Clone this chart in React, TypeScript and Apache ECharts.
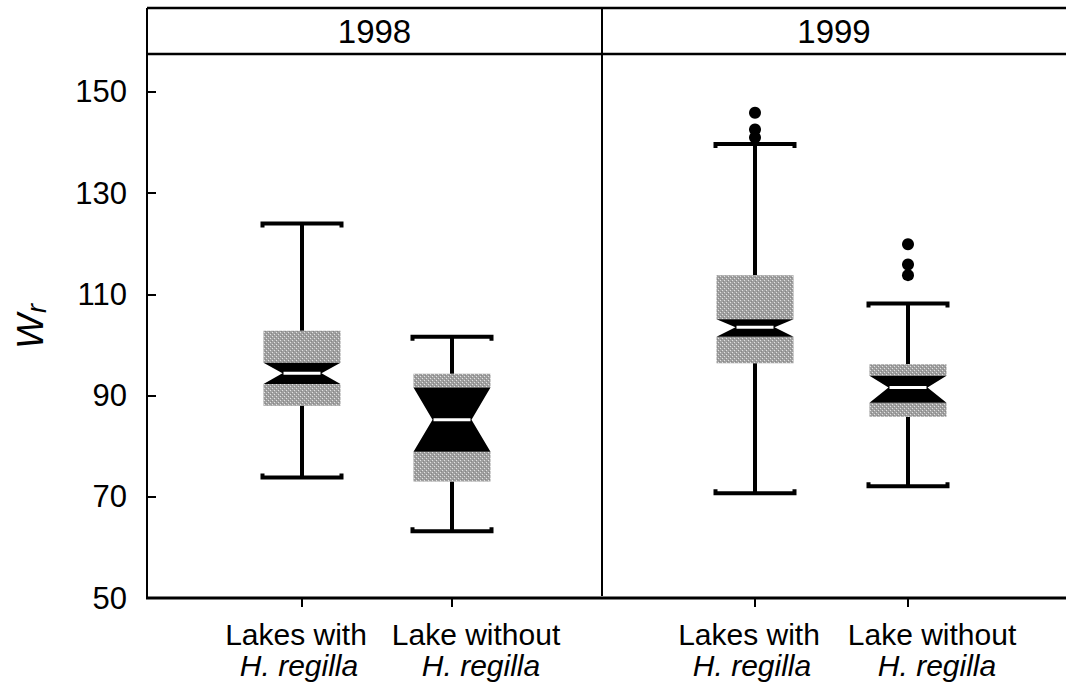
import React, { useEffect, useRef } from "react";
import * as echarts from "echarts";

// Category labels and years
const categories = ["Lakes with", "Lake without"];
const speciesLabel = "H. regilla";
const years = ["1998", "1999"];
const yTicks = [50, 70, 90, 110, 130, 150];

// Notched box statistics: [min, q1, notchLow, median, notchHigh, q3, max]
const box1998: number[][] = [
  [73.8, 88.0, 92.3, 94.4, 96.5, 102.8, 124.0],
  [63.2, 73.0, 78.9, 85.2, 91.6, 94.3, 101.6],
];
const box1999: number[][] = [
  [70.7, 96.4, 101.6, 103.5, 105.1, 113.8, 139.7],
  [72.1, 85.8, 88.6, 91.6, 93.9, 96.2, 108.2],
];
// Outliers: [category index (1 = Lakes with, 2 = Lake without), value]
const outliers1998: number[][] = [];
const outliers1999: number[][] = [
  [1, 145.9],
  [1, 142.6],
  [1, 141.0],
  [2, 119.9],
  [2, 115.9],
  [2, 113.8],
];

const FONT = "'Liberation Sans', Arial, Helvetica, sans-serif";

function makeStipple(): any {
  try {
    const c = document.createElement("canvas");
    c.width = 4;
    c.height = 4;
    const ctx = c.getContext("2d")!;
    ctx.fillStyle = "#a0a0a0";
    ctx.fillRect(0, 0, 4, 4);
    ctx.fillStyle = "#e2e2e2";
    ctx.fillRect(0, 0, 1, 1);
    ctx.fillRect(2, 2, 1, 1);
    ctx.fillStyle = "#878787";
    ctx.fillRect(1, 3, 1, 1);
    ctx.fillRect(3, 1, 1, 1);
    return { image: c.toDataURL(), repeat: "repeat" };
  } catch (e) {
    return "#ababab";
  }
}

function makeRenderBox(fill: any) {
  return function renderBox(params: any, api: any) {
    const x = api.value(0);
    const min = api.value(1);
    const q1 = api.value(2);
    const nlo = api.value(3);
    const med = api.value(4);
    const nhi = api.value(5);
    const q3 = api.value(6);
    const max = api.value(7);
    const cx = api.coord([x, med])[0];
    const y = (v: number) => api.coord([x, v])[1];
    const hw = 38.5;
    const nw = 19.5;
    const cw = 39.5;
    const lw = 4;
    const hook = 4;
    const black = "#000";
    return {
      type: "group",
      children: [
        { type: "line", shape: { x1: cx, y1: y(max), x2: cx, y2: y(q3) }, style: { stroke: black, lineWidth: lw } },
        { type: "line", shape: { x1: cx, y1: y(q1), x2: cx, y2: y(min) }, style: { stroke: black, lineWidth: lw } },
        {
          type: "polyline",
          shape: { points: [[cx - cw, y(max) + hook], [cx - cw, y(max)], [cx + cw, y(max)], [cx + cw, y(max) + hook]] },
          style: { stroke: black, lineWidth: lw, fill: null },
        },
        {
          type: "polyline",
          shape: { points: [[cx - cw, y(min) - hook], [cx - cw, y(min)], [cx + cw, y(min)], [cx + cw, y(min) - hook]] },
          style: { stroke: black, lineWidth: lw, fill: null },
        },
        { type: "rect", shape: { x: cx - hw, y: y(q3), width: 2 * hw, height: y(nhi) - y(q3) }, style: { fill } },
        { type: "rect", shape: { x: cx - hw, y: y(nlo), width: 2 * hw, height: y(q1) - y(nlo) }, style: { fill } },
        {
          type: "polygon",
          shape: {
            points: [
              [cx - hw, y(nhi)],
              [cx + hw, y(nhi)],
              [cx + nw, y(med)],
              [cx + hw, y(nlo)],
              [cx - hw, y(nlo)],
              [cx - nw, y(med)],
            ],
          },
          style: { fill: black },
        },
        { type: "line", shape: { x1: cx - nw + 1, y1: y(med), x2: cx + nw - 1, y2: y(med) }, style: { stroke: "#fff", lineWidth: 3 } },
      ],
    };
  };
}

const labelRich = {
  a: { fontSize: 30, fontFamily: FONT, color: "#000", lineHeight: 31, padding: [0, 12, 0, 0] },
  ai: { fontSize: 30, fontFamily: FONT, fontStyle: "italic", color: "#000", lineHeight: 31, padding: [0, 6, 0, 0] },
  b: { fontSize: 30, fontFamily: FONT, color: "#000", lineHeight: 31, padding: [0, 0, 0, 48] },
  bi: { fontSize: 30, fontFamily: FONT, fontStyle: "italic", color: "#000", lineHeight: 31, padding: [0, 0, 0, 58] },
};

const isCategory = (i: number) => i === 1 || i === 2;

function xAxisFor(gridIndex: number) {
  return {
    type: "category",
    gridIndex,
    data: ["", categories[0], categories[1], ""],
    boundaryGap: false,
    axisLine: { show: false },
    axisTick: { show: true, interval: isCategory, length: 9, lineStyle: { color: "#000", width: 2 } },
    axisLabel: {
      show: true,
      interval: 0,
      hideOverlap: false,
      margin: 21,
      formatter: (v: string) =>
        v === categories[0]
          ? `{a|${categories[0]}}\n{ai|${speciesLabel}}`
          : v === categories[1]
          ? `{b|${categories[1]}}\n{bi|${speciesLabel}}`
          : "",
      rich: labelRich,
    },
    splitLine: { show: false },
  };
}

export default function App() {
  const ref = useRef<HTMLDivElement>(null);
  useEffect(() => {
    document.body.style.margin = "0";
    const chart = echarts.init(ref.current!, null, { renderer: "svg" });
    const yMax = 157.3;
    const fill = makeStipple();
    const renderBox = makeRenderBox(fill);
    const option: any = {
      animation: false,
      backgroundColor: "#fff",
      grid: [
        { left: 143, top: 55, width: 459, height: 543 },
        { left: 602, top: 55, width: 459, height: 543 },
      ],
      xAxis: [xAxisFor(0), xAxisFor(1)],
      yAxis: [
        {
          type: "value",
          gridIndex: 0,
          min: 50,
          max: yMax,
          interval: 20,
          offset: -4,
          name: "{w|W}{r|r}",
          nameLocation: "middle",
          nameRotate: 90,
          nameGap: 106,
          nameTextStyle: {
            rich: {
              w: { fontSize: 37, fontFamily: FONT, fontStyle: "italic", color: "#000", lineHeight: 40 },
              r: { fontSize: 27, fontFamily: FONT, fontStyle: "italic", color: "#000", verticalAlign: "bottom", lineHeight: 27, padding: [22, 0, 0, 1] },
            },
          },
          axisLine: { show: false },
          axisTick: { show: true, customValues: yTicks, length: 10, lineStyle: { color: "#000", width: 2 } },
          axisLabel: { customValues: yTicks, margin: 29, fontSize: 31, fontFamily: FONT, color: "#000" },
          splitLine: { show: false },
        },
        {
          type: "value",
          gridIndex: 1,
          min: 50,
          max: yMax,
          interval: 20,
          show: false,
          splitLine: { show: false },
        },
      ],
      graphic: [
        { type: "line", shape: { x1: 147, y1: 8, x2: 1066, y2: 8 }, style: { stroke: "#000", lineWidth: 2.5 } },
        { type: "line", shape: { x1: 147, y1: 54, x2: 1066, y2: 54 }, style: { stroke: "#000", lineWidth: 2.5 } },
        { type: "line", shape: { x1: 147, y1: 8, x2: 147, y2: 599 }, style: { stroke: "#000", lineWidth: 2 } },
        { type: "line", shape: { x1: 602, y1: 8, x2: 602, y2: 596 }, style: { stroke: "#000", lineWidth: 2 } },
        { type: "line", shape: { x1: 146, y1: 598, x2: 1066, y2: 598 }, style: { stroke: "#000", lineWidth: 3 } },
        {
          type: "text",
          x: 374.5,
          y: 31,
          style: { text: years[0], fontSize: 33, fontFamily: FONT, fill: "#000", align: "center", verticalAlign: "middle" },
        },
        {
          type: "text",
          x: 834,
          y: 31,
          style: { text: years[1], fontSize: 33, fontFamily: FONT, fill: "#000", align: "center", verticalAlign: "middle" },
        },
      ],
      series: [
        {
          type: "custom",
          name: years[0],
          xAxisIndex: 0,
          yAxisIndex: 0,
          renderItem: renderBox,
          encode: { x: 0, y: [1, 2, 3, 4, 5, 6, 7] },
          data: box1998.map((b, i) => [i + 1, ...b]),
        },
        {
          type: "custom",
          name: years[1],
          xAxisIndex: 1,
          yAxisIndex: 1,
          renderItem: renderBox,
          encode: { x: 0, y: [1, 2, 3, 4, 5, 6, 7] },
          data: box1999.map((b, i) => [i + 1, ...b]),
        },
        {
          type: "scatter",
          xAxisIndex: 0,
          yAxisIndex: 0,
          symbolSize: 12,
          itemStyle: { color: "#000", opacity: 1 },
          data: outliers1998,
        },
        {
          type: "scatter",
          xAxisIndex: 1,
          yAxisIndex: 1,
          symbolSize: 12,
          itemStyle: { color: "#000", opacity: 1 },
          data: outliers1999,
        },
      ],
    };
    chart.setOption(option);
    return () => chart.dispose();
  }, []);
  return <div ref={ref} style={{ position: "fixed", left: 0, top: 0, width: 1066, height: 692 }} />;
}
